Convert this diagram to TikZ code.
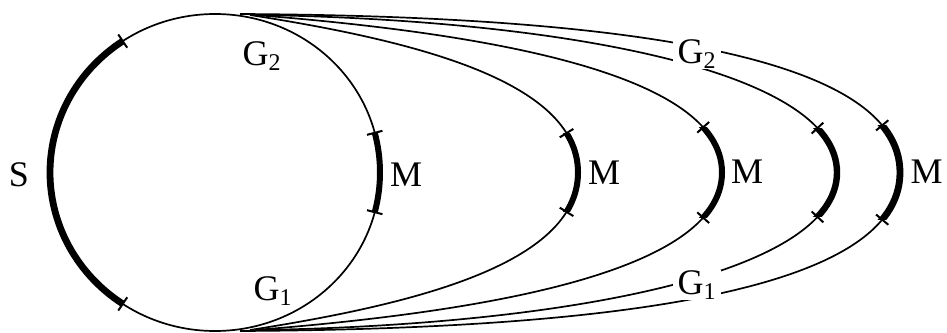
\documentclass[tikz,border=0pt]{standalone}
\usepackage{fontspec}
\setmainfont{Liberation Serif}
\newcommand{\Gsub}[1]{G\raisebox{-2.5pt}{\fontsize{12}{12}\selectfont #1}}
\begin{document}
\begin{tikzpicture}[x=0.5pt,y=-0.5pt,
  thinline/.style={line width=0.85pt},
  heavy/.style={line width=3pt},
  tickline/.style={line width=1pt},
  tickmark/.style={draw, line width=1pt, rectangle, minimum width=0pt, minimum height=8pt, inner sep=0pt, sloped},
  lbl/.style={font=\fontsize{18}{20}\selectfont, inner sep=1pt},
  cut/.style={lbl, fill=white, inner xsep=2.5pt, inner ysep=0.5pt}]
\useasboundingbox (0,0) rectangle (947,332);
\coordinate (L) at (0,0);
\coordinate (R) at (947,0);
\coordinate (C) at (215,172.5);

% circle
\draw[thinline] (C) ellipse [x radius=165, y radius=158.5];
\draw[line width=3.4pt] ([shift={(124:165 and 158.5)}]C) arc [start angle=124, end angle=236, x radius=165, y radius=158.5];
\draw[heavy] ([shift={(-14.5:165 and 158.5)}]C) arc [start angle=-14.5, end angle=14.5, x radius=165, y radius=158.5];
\foreach \a in {124,236,-14.5,14.5}
  \draw[tickline] ([shift={(\a:157 and 150.5)}]C) -- ([shift={(\a:173 and 166.5)}]C);

% curves
\def\cA{(250,15) .. controls (410,40) and (578,80) .. (578,172.5) .. controls (578,265) and (410,305) .. (250,330)}
\def\cB{(255,15) .. controls (470,32) and (722,70) .. (722,172.5) .. controls (722,275) and (470,313) .. (255,330)}
\def\cC{(260,15) .. controls (560,20) and (837,70) .. (837,172.5) .. controls (837,275) and (560,325) .. (260,330)}
\def\cD{(240,14) .. controls (620,16) and (900,55) .. (900,172.5) .. controls (900,290) and (620,329) .. (240,331)}

\draw[thinline] (250,15) .. controls (410,40) and (578,80) .. (578,172.5) node[tickmark,pos=0.845] (k1a) {}
  .. controls (578,265) and (410,305) .. (250,330) node[tickmark,pos=0.155] (k1b) {};
\draw[thinline] (255,15) .. controls (470,32) and (722,70) .. (722,172.5) node[tickmark,pos=0.837] (k2a) {}
  .. controls (722,275) and (470,313) .. (255,330) node[tickmark,pos=0.163] (k2b) {};
\draw[thinline] (260,15) .. controls (560,20) and (837,70) .. (837,172.5) node[tickmark,pos=0.843] (k3a) {}
  .. controls (837,275) and (560,325) .. (260,330) node[tickmark,pos=0.157] (k3b) {};
\draw[thinline] (240,14) .. controls (620,16) and (900,55) .. (900,172.5) node[tickmark,pos=0.852] (k4a) {}
  .. controls (900,290) and (620,329) .. (240,331) node[tickmark,pos=0.148] (k4b) {};

\begin{scope}\clip (k1a -| L) rectangle (k1b -| R); \draw[heavy] \cA; \end{scope}
\begin{scope}\clip (k2a -| L) rectangle (k2b -| R); \draw[heavy] \cB; \end{scope}
\begin{scope}\clip (k3a -| L) rectangle (k3b -| R); \draw[line width=3.2pt] \cC; \end{scope}
\begin{scope}\clip (k4a -| L) rectangle (k4b -| R); \draw[line width=3.4pt] \cD; \end{scope}

% labels
\node[lbl] (s) at (19,175) {S};
\node[lbl] (g2in) at (261.5,56.5) {\Gsub{2}};
\node[lbl] (g1in) at (272.5,291) {\Gsub{1}};
\node[lbl] (m0) at (406,175) {M};
\node[lbl] (m1) at (604,173) {M};
\node[lbl] (m2) at (747,172) {M};
\node[lbl, anchor=east] (m4) at (945,172) {M};
\node[cut] (g2out) at (696.5,54) {\Gsub{2}};
\node[cut] (g1out) at (696.5,285) {\Gsub{1}};
\end{tikzpicture}
\end{document}
